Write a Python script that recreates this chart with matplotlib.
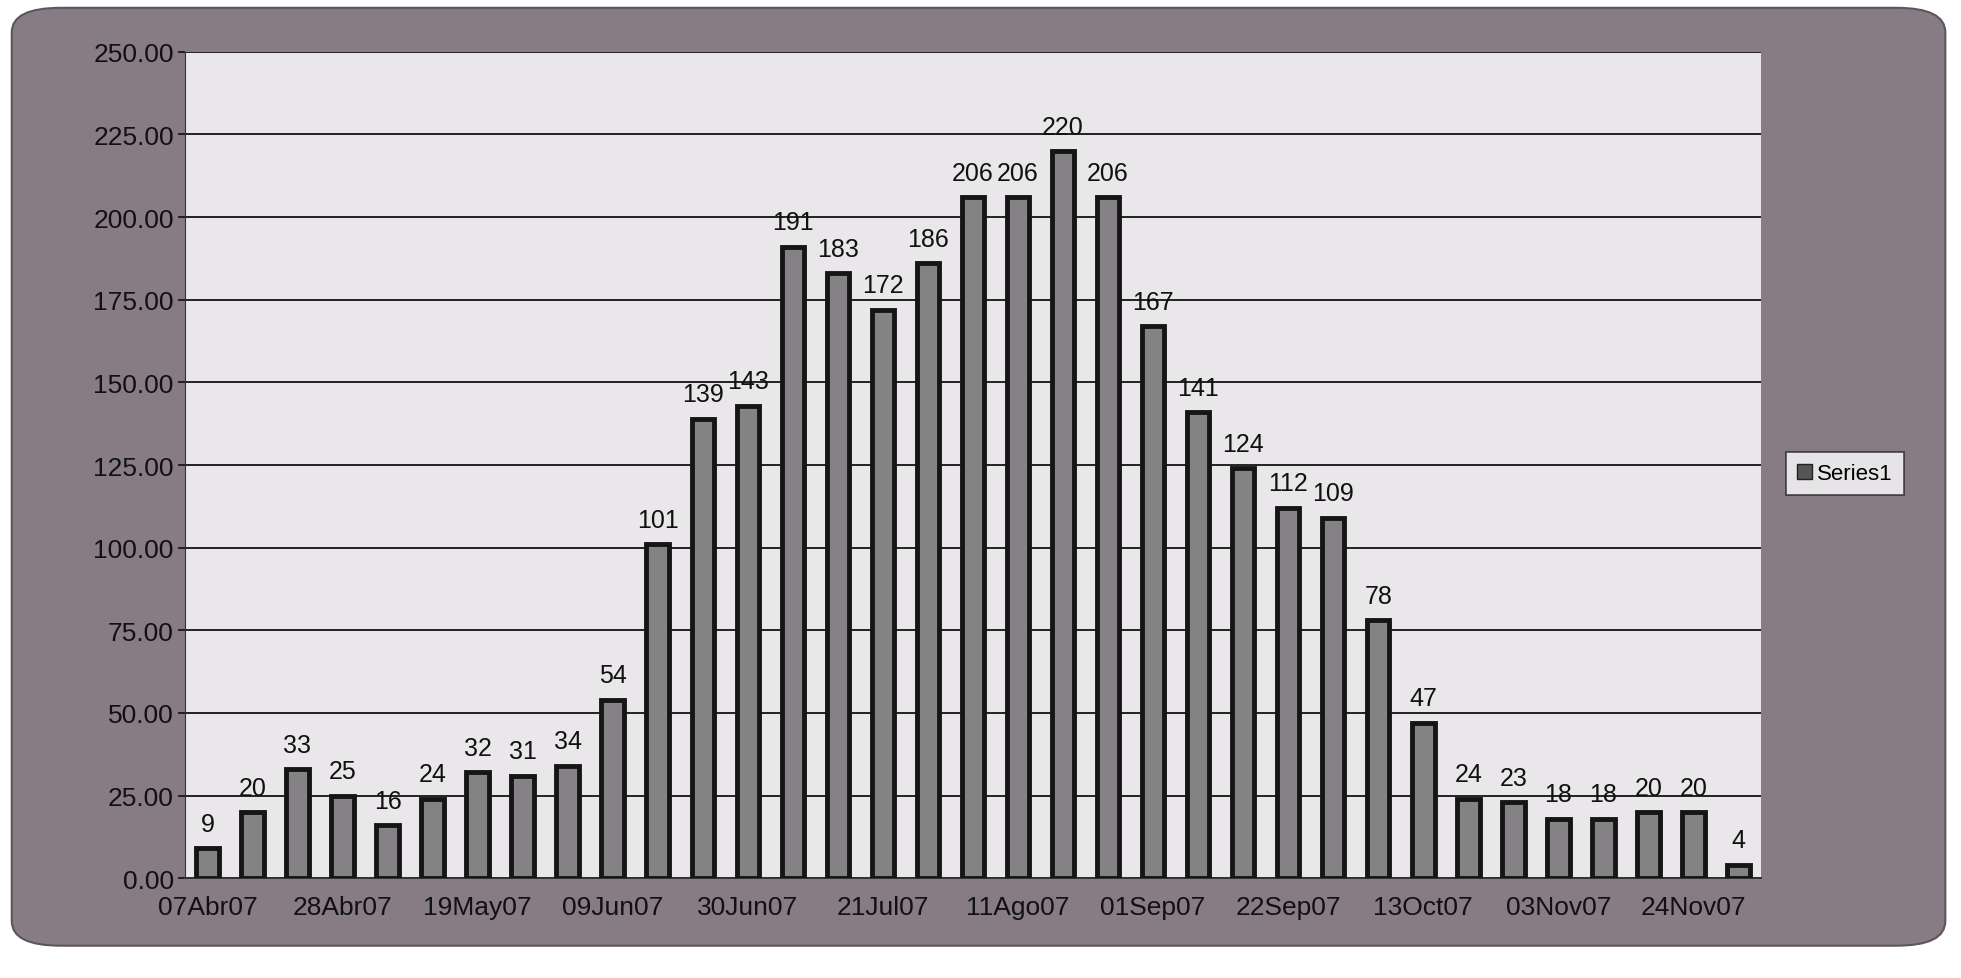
import matplotlib.pyplot as plt
import numpy as np
from matplotlib.patches import FancyBboxPatch, Patch

# weekly values, one bar per week starting 07Abr07
values = [9, 20, 33, 25, 16, 24, 32, 31, 34, 54, 101, 139, 143, 191, 183,
          172, 186, 206, 206, 220, 206, 167, 141, 124, 112, 109, 78, 47,
          24, 23, 18, 18, 20, 20, 4]
tick_labels = ['07Abr07', '28Abr07', '19May07', '09Jun07', '30Jun07', '21Jul07',
               '11Ago07', '01Sep07', '22Sep07', '13Oct07', '03Nov07', '24Nov07']
y_ticks = [0, 25, 50, 75, 100, 125, 150, 175, 200, 225, 250]
series_name = 'Series1'

plt.rcParams['font.family'] = ['Liberation Sans', 'DejaVu Sans']

fig = plt.figure(figsize=(19.61, 9.79), dpi=100)
fig.patch.set_facecolor('white')

# scanned grey frame with rounded corners
frame = FancyBboxPatch((0.006, 0.033), 0.986, 0.958,
                       boxstyle='round,pad=0,rounding_size=0.025',
                       transform=fig.transFigure, facecolor='#877c84',
                       edgecolor='#5e565c', linewidth=1.5, zorder=-5)
fig.add_artist(frame)

ax = fig.add_axes([0.0943, 0.102, 0.8037, 0.844])
ax.set_zorder(2)
ax.set_facecolor('#e9e7e9')

x = np.arange(len(values))
bars = ax.bar(x, values, width=0.5, color='#858285', edgecolor='#151515',
              linewidth=3.5, zorder=3)
for xi, v in zip(x, values):
    ax.annotate(str(v), (xi, v), xytext=(0, 9), textcoords='offset points',
                ha='center', va='bottom', fontsize=18, color='#111111')

ax.set_xlim(-0.5, len(values) - 0.5)
ax.set_ylim(0, 250)
ax.set_yticks(y_ticks)
ax.set_yticklabels([f'{t:.2f}' for t in y_ticks], fontsize=19)
ax.set_xticks(x[::3])
ax.set_xticklabels(tick_labels, fontsize=19)
ax.tick_params(axis='x', length=0, pad=12)
ax.tick_params(axis='y', length=5, width=1.2, pad=3, colors='#111111')
ax.tick_params(axis='x', colors='#111111')
ax.yaxis.grid(True, color='#222222', linewidth=1.4, zorder=1)
ax.set_axisbelow(True)
for side in ('top', 'right'):
    ax.spines[side].set_visible(False)
ax.spines['left'].set_color('#333333')
ax.spines['bottom'].set_color('#333333')
ax.spines['bottom'].set_linewidth(1.4)

leg = fig.legend(handles=[Patch(facecolor='#555555', edgecolor='#222222')],
                 labels=[series_name], loc='center left',
                 bbox_to_anchor=(0.905, 0.515), fontsize=16,
                 frameon=True, fancybox=False, handlelength=0.7,
                 handleheight=0.7, handletextpad=0.2, borderpad=0.5)
leg.get_frame().set_facecolor('white')
leg.get_frame().set_edgecolor('#222222')
leg.get_frame().set_linewidth(1.2)

fig.savefig('out.png', dpi=100, facecolor=fig.get_facecolor())
